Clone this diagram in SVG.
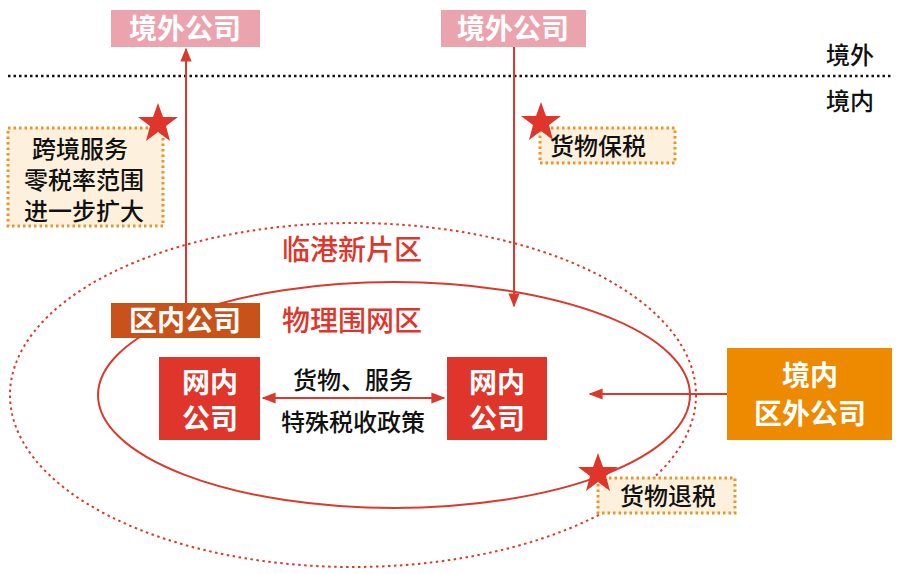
<svg xmlns="http://www.w3.org/2000/svg" width="900" height="574" viewBox="0 0 900 574">
<style>
text{font-family:"Noto Sans CJK SC",sans-serif;text-anchor:middle}
.w{fill:#fff;font-size:28px;font-weight:bold}
.b{fill:#111;font-size:24px;font-weight:500}
.r{fill:#e0352a;font-size:28px;font-weight:500}
.note{fill:#fdf0dc;stroke:#e8962a;stroke-width:3;stroke-dasharray:2.5 3}
.ln{stroke:#d93a2b;stroke-width:2;fill:none}
.star{fill:#e0352a}
</style>
<defs>
<marker id="a" viewBox="0 0 10 10" refX="9" refY="5" markerWidth="7" markerHeight="7" orient="auto-start-reverse"><path d="M0,1 L10,5 L0,9 z" fill="#d93a2b"/></marker>
<polygon id="st" points="0,-21 5,-7 20,-7 8,2 12,17 0,8 -12,17 -8,2 -20,-7 -5,-7"/>
</defs>
<line x1="8" y1="76" x2="892" y2="76" stroke="#111" stroke-width="2.5" stroke-dasharray="2.5 3"/>
<text x="850" y="64" class="b" font-size="26">境外</text>
<text x="850" y="110" class="b" font-size="26">境内</text>
<g id="zones">
<ellipse cx="353" cy="395" rx="343" ry="172" class="ln" stroke-width="2.5" stroke-dasharray="2.5 3.5"/>
<ellipse cx="394" cy="395" rx="296" ry="113" class="ln"/>
<text x="352" y="260" class="r">临港新片区</text>
<text x="352" y="331" class="r">物理围网区</text>
</g>
<g id="connectors">
<line x1="186" y1="308" x2="186" y2="49" class="ln" marker-end="url(#a)"/>
<line x1="514" y1="47" x2="514" y2="306" class="ln" marker-end="url(#a)"/>
<line x1="263" y1="398" x2="444" y2="398" class="ln" marker-start="url(#a)" marker-end="url(#a)"/>
<line x1="727" y1="394" x2="590" y2="394" class="ln" marker-end="url(#a)"/>
</g>
<g id="ext1"><rect x="111" y="10" width="149" height="37" fill="#eba3ae"/><text x="185" y="39" class="w">境外公司</text></g>
<g id="ext2"><rect x="441" y="10" width="145" height="37" fill="#eba3ae"/><text x="513" y="39" class="w">境外公司</text></g>
<g id="note1"><rect x="8" y="128" width="155" height="98" class="note"/><use href="#st" x="158" y="124" class="star"/>
<text x="80" y="158" class="b">跨境服务</text><text x="84" y="189" class="b">零税率范围</text><text x="84" y="220" class="b">进一步扩大</text></g>
<g id="note2"><rect x="540" y="128" width="135" height="35" class="note"/><use href="#st" x="541" y="123" class="star"/><text x="598" y="155" class="b">货物保税</text></g>
<g id="note3"><rect x="598" y="478" width="137" height="35" class="note"/><use href="#st" x="598" y="474" class="star"/><text x="668" y="505" class="b">货物退税</text></g>
<g id="qn"><rect x="111" y="303" width="149" height="35" fill="#c9521b"/><text x="185" y="331" class="w">区内公司</text></g>
<g id="wn1"><rect x="159" y="357" width="101" height="83" fill="#e0352a"/><text x="210" y="393" class="w">网内</text><text x="210" y="429" class="w">公司</text></g>
<g id="wn2"><rect x="447" y="357" width="100" height="83" fill="#e0352a"/><text x="497" y="393" class="w">网内</text><text x="497" y="429" class="w">公司</text></g>
<text x="353" y="389" class="b">货物、服务</text>
<text x="353" y="431" class="b">特殊税收政策</text>
<g id="qw"><rect x="727" y="348" width="165" height="92" fill="#ee8a00"/><text x="810" y="386" class="w">境内</text><text x="810" y="424" class="w">区外公司</text></g>
</svg>
